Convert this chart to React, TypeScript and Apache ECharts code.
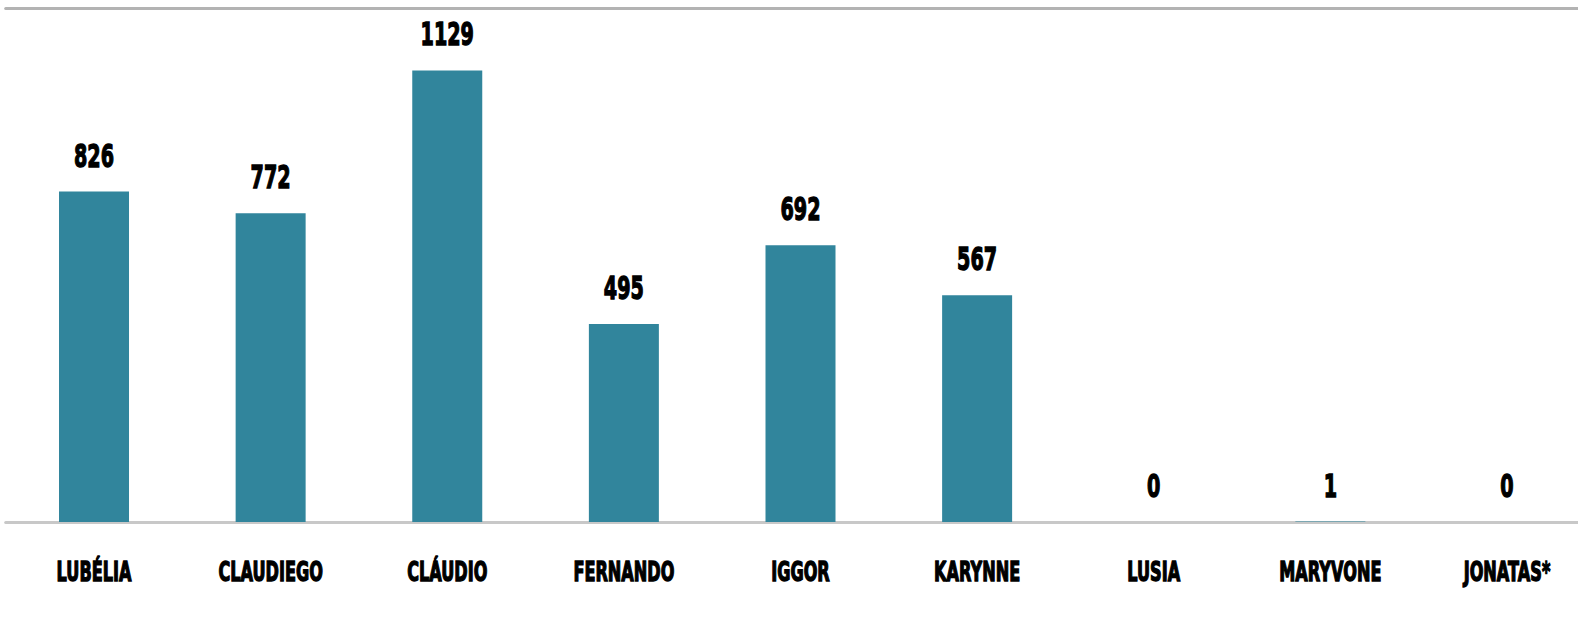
import React, { useEffect, useRef } from "react";
import * as echarts from "echarts";

const categories = ["LUBÉLIA", "CLAUDIEGO", "CLÁUDIO", "FERNANDO", "IGGOR", "KARYNNE", "LUSIA", "MARYVONE", "JONATAS*"];
const values = [826, 772, 1129, 495, 692, 567, 0, 1, 0];

const BAR_COLOR = "#31859c";
const FONT = '"DejaVu Sans", "Liberation Sans", sans-serif';

export default function App() {
  const ref = useRef<HTMLDivElement>(null);
  useEffect(() => {
    if (!ref.current) return;
    const chart = echarts.init(ref.current, null, { renderer: "svg" });
    const pts = values.map((v, i) => [i, v]);
    chart.setOption({
      animation: false,
      backgroundColor: "#ffffff",
      grid: { left: 5.7, width: 1589.6, top: 8, bottom: 96 },
      xAxis: [
        {
          type: "category",
          data: categories,
          axisLine: { show: true, lineStyle: { color: "#c8c8c8", width: 3 } },
          axisTick: { show: false },
          axisLabel: { show: false },
        },
        {
          type: "category",
          data: categories,
          position: "top",
          axisLine: { show: true, lineStyle: { color: "#b3b3b3", width: 3 } },
          axisTick: { show: false },
          axisLabel: { show: false },
        },
      ],
      yAxis: { type: "value", min: 0, max: 1285, show: false, splitLine: { show: false } },
      series: [
        {
          type: "bar",
          data: values,
          barWidth: 70,
          itemStyle: { color: BAR_COLOR },
        },
        {
          type: "custom",
          clip: false,
          data: pts,
          renderItem: (params: any, api: any) => {
            const v = api.value(1);
            const p = api.coord([api.value(0), v]);
            return {
              type: "text",
              x: p[0],
              y: p[1] - 36,
              scaleX: 0.6,
              style: {
                text: String(v),
                font: `bold 32px ${FONT}`,
                fill: "#000000",
                stroke: "#000000",
                lineWidth: 1.4,
                align: "center",
                verticalAlign: "middle",
              },
            };
          },
        },
        {
          type: "custom",
          clip: false,
          data: pts,
          renderItem: (params: any, api: any) => {
            const idx = api.value(0);
            const p = api.coord([idx, 0]);
            return {
              type: "text",
              x: p[0],
              y: p[1] + 50,
              scaleX: 0.62,
              style: {
                text: categories[idx],
                font: `bold 26px ${FONT}`,
                fill: "#000000",
                stroke: "#000000",
                lineWidth: 1.4,
                align: "center",
                verticalAlign: "middle",
              },
            };
          },
        },
      ],
    });
    return () => chart.dispose();
  }, []);
  return (
    <div
      style={{ position: "fixed", left: 0, top: 0, width: 1578, height: 618, overflow: "hidden", background: "#fff" }}
    >
      <div ref={ref} style={{ width: 1600, height: 618 }} />
    </div>
  );
}
